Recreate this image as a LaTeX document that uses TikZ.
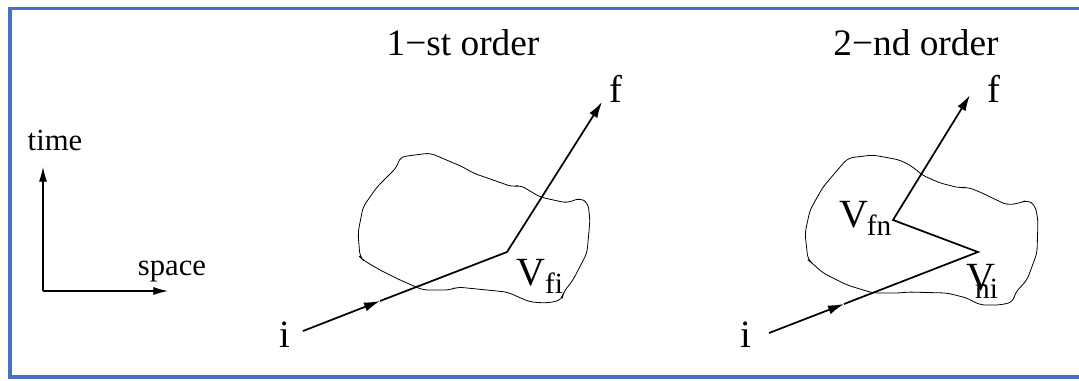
\documentclass[tikz,border=0pt]{standalone}
\usepackage{fontspec}
\setmainfont{Liberation Serif}
\usetikzlibrary{arrows.meta}
\definecolor{frameblue}{RGB}{68,114,196}
\tikzset{
  conn/.style={line width=1.3pt},
  blob/.style={line width=0.6pt, rounded corners=4pt},
  axis/.style={line width=0.8pt, -{Latex[length=11pt,width=6pt]}},
  tip/.style={-{Latex[length=12pt,width=7pt]}},
  lbl/.style={inner sep=0pt, anchor=base, font=\fontsize{29}{29}\selectfont},
  ttl/.style={inner sep=0pt, anchor=base, font=\fontsize{28}{28}\selectfont},
  axl/.style={inner sep=0pt, anchor=base, font=\fontsize{23}{23}\selectfont},
  vl/.style={inner sep=0pt, anchor=base west, font=\fontsize{30}{30}\selectfont},
}
\newcommand{\subtxt}[1]{\raisebox{-6pt}{\fontsize{22}{22}\selectfont #1}}
\begin{document}
\begin{tikzpicture}[x=0.75pt,y=-0.75pt]
\clip (0,0) rectangle (1079,380);
% frame
\draw[frameblue, line width=2.3pt] (10,8.5) rectangle (1100,377);
% axes
\coordinate (o) at (43,291);
\coordinate (tt) at (43,167);
\coordinate (st) at (168,291);
\draw[axis] (o) -- (tt);
\draw[axis] (o) -- (st);
\node[axl] (time) at (55,150) {time};
\node[axl] (space) at (172,275) {space};
% titles
\node[ttl] (t1) at (463,55) {1−st order};
\node[ttl] (t2) at (916,55) {2−nd order};
% blob 1
\draw[blob] (400,157) -- (430,153) -- (463,167) -- (473,173) -- (513,187) -- (520,185) -- (540,197) -- (567,203) -- (580,198) -- (588,203) -- (590,220) -- (587,253) -- (573,280) -- (563,293) -- (562,300) -- (547,303) -- (530,302) -- (507,292) -- (457,287) -- (450,290) -- (423,290) -- (400,280) -- (380,270) -- (363,260) -- (360,257) -- (358,233) -- (363,207) -- (377,187) -- (397,167) -- cycle;
% blob 2
\draw[blob] (848,158) -- (873,155) -- (900,160) -- (913,167) -- (922,175) -- (940,183) -- (960,188) -- (967,187) -- (980,192) -- (1007,205) -- (1020,203) -- (1027,200) -- (1035,205) -- (1038,220) -- (1037,253) -- (1027,280) -- (1015,293) -- (1013,302) -- (1000,305) -- (980,305) -- (967,298) -- (947,293) -- (907,292) -- (900,293) -- (873,293) -- (847,285) -- (823,273) -- (812,263) -- (808,260) -- (805,233) -- (810,210) -- (823,187) -- (840,167) -- cycle;
% panel 1 connectors
\coordinate (i1s) at (303,331);
\coordinate (m1) at (380,301);
\coordinate (v1) at (507,252);
\coordinate (f1t) at (602,102);
\draw[conn,tip] (i1s) -- (m1);
\draw[conn,tip] (m1) -- (v1) -- (f1t);
\node[lbl] (i1) at (285,347) {i};
\node[lbl] (f1) at (616,102) {f};
\node[vl] (vfi) at (516,285) {V\subtxt{fi}};
% panel 2 connectors
\coordinate (i2s) at (769,333);
\coordinate (m2) at (844,304);
\coordinate (vni) at (978,252);
\coordinate (vfn) at (893,220);
\coordinate (f2t) at (970,95);
\draw[conn,tip] (i2s) -- (m2);
\draw[conn,tip] (m2) -- (vni) -- (vfn) -- (f2t);
\node[lbl] (i2) at (746,347) {i};
\node[lbl] (f2) at (994,102) {f};
\node[vl] (vfnl) at (839,227) {V\kern-1pt\subtxt{fn}};
\node[vl] (vnil) at (966,290) {V\kern-15pt\subtxt{ni}};
\end{tikzpicture}
\end{document}
